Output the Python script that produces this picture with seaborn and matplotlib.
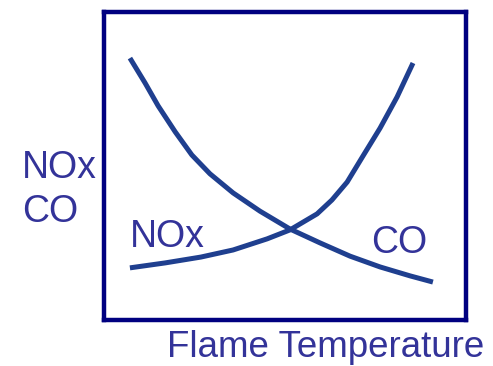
import pandas as pd
import matplotlib
matplotlib.use("Agg")
import matplotlib.pyplot as plt
import seaborn as sns

# arbitrary 0-100 units
co_temp = [7.3, 11.5, 15.1, 19.8, 24.4, 29.4, 35.8, 43.2, 51.5, 59.8, 68.1, 76.4, 84.7, 91.0]
co_level = [84.9, 76.8, 69.4, 61.0, 53.5, 47.4, 41.2, 35.3, 29.5, 25.0, 20.7, 17.2, 14.3, 12.3]
nox_temp = [7.3, 17.0, 26.9, 35.8, 45.2, 51.5, 59.0, 63.1, 67.3, 71.7, 76.4, 81.1, 85.5]
nox_level = [16.9, 18.5, 20.4, 22.7, 26.3, 29.2, 34.4, 38.9, 44.7, 53.2, 62.2, 72.3, 83.3]

df = pd.concat([
    pd.DataFrame({"temp": co_temp, "level": co_level, "gas": "CO"}),
    pd.DataFrame({"temp": nox_temp, "level": nox_level, "gas": "NOx"}),
])

sns.set_style("white")
plt.rcParams['font.family'] = ['Liberation Sans', 'DejaVu Sans']

line_col = "#1f3f8f"
text_col = "#333399"
box_col = "#000080"

fig = plt.figure(figsize=(4.93, 3.66), dpi=100)
ax = fig.add_axes([103.5 / 493, 1 - 320 / 366, 362 / 493, 308.5 / 366])
sns.lineplot(data=df, x="temp", y="level", hue="gas", units="gas", estimator=None,
             sort=False, palette={"CO": line_col, "NOx": line_col},
             linewidth=3.6, legend=False, ax=ax)
for l in ax.lines:
    l.set_solid_capstyle("butt")
    l.set_solid_joinstyle("round")
ax.set_xlim(0, 100)
ax.set_ylim(0, 100)
ax.set_xticks([])
ax.set_yticks([])
ax.set_xlabel("")
ax.set_ylabel("")
for s in ax.spines.values():
    s.set_visible(True)
    s.set_color(box_col)
    s.set_linewidth(3.2)

ax.text(7.3, 23.7, "NOx", color=text_col, fontsize=27, ha="left", va="baseline")
ax.text(73.9, 21.7, "CO", color=text_col, fontsize=27, ha="left", va="baseline")
fig.text(22 / 493, 1 - 178 / 366, "NOx", color=text_col, fontsize=27, ha="left", va="baseline")
fig.text(22 / 493, 1 - 222 / 366, "CO", color=text_col, fontsize=27, ha="left", va="baseline")
fig.text(167 / 493, 1 - 357 / 366, "Flame Temperature", color=text_col, fontsize=26.5,
         ha="left", va="baseline")

plt.savefig("out.png", dpi=100)
